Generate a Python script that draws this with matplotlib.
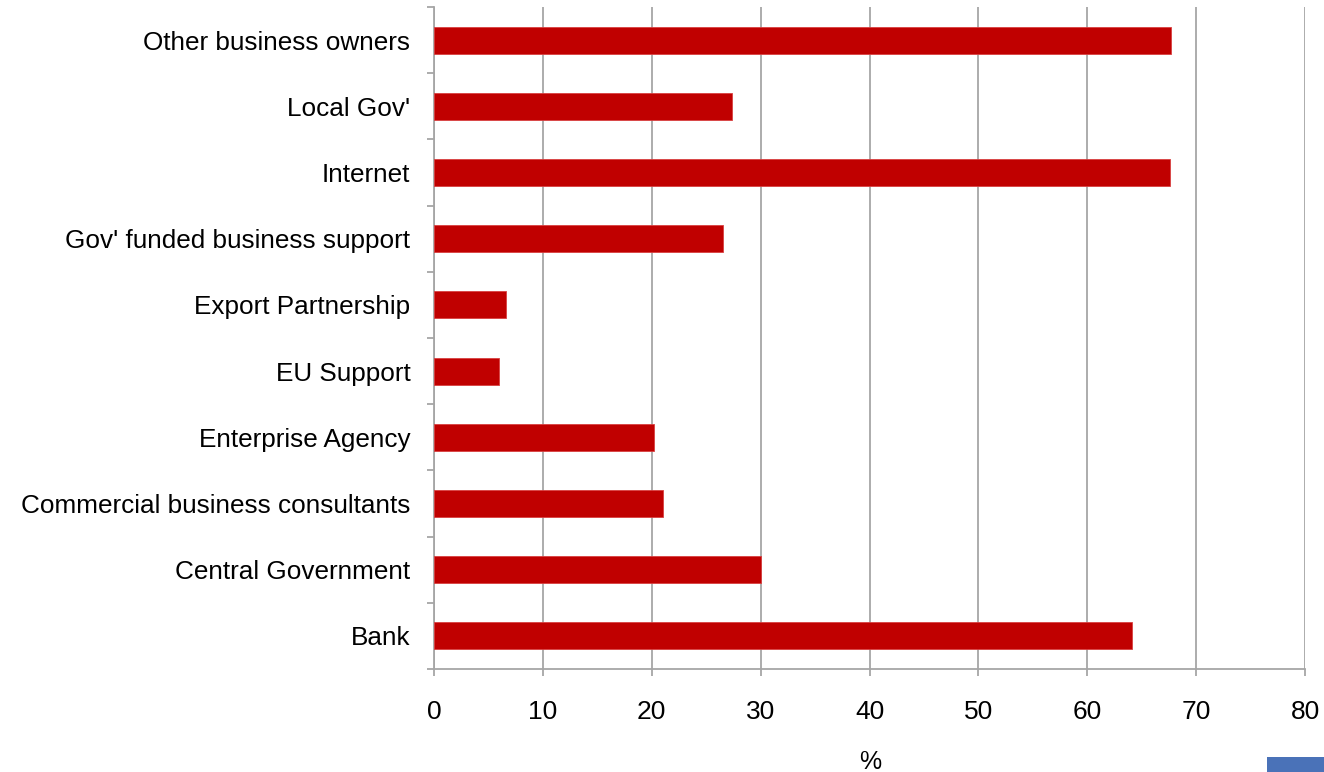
import matplotlib
matplotlib.use("Agg")
import matplotlib.pyplot as plt
from matplotlib.patches import Rectangle
import numpy as np

plt.rcParams['font.family'] = ['Liberation Sans', 'DejaVu Sans']

categories = ["Bank", "Central Government", "Commercial business consultants",
              "Enterprise Agency", "EU Support", "Export Partnership",
              "Gov' funded business support", "Internet", "Local Gov'",
              "Other business owners"]
values = [64.1, 30.0, 21.0, 20.2, 5.95, 6.65, 26.5, 67.6, 27.4, 67.7]
x_ticks = [0, 10, 20, 30, 40, 50, 60, 70, 80]
x_label = "%"

fig = plt.figure(figsize=(13.24, 7.72), dpi=100)
ax = fig.add_axes([434/1324, 103/772, 871/1324, 662/772])

y = np.arange(len(categories))
ax.barh(y, values, height=0.41, color="#C00000", edgecolor="#D84040",
        linewidth=0.6, zorder=3)

ax.set_xlim(0, 80)
ax.set_ylim(-0.5, len(categories) - 0.5)

grid_c = "#A6A6A6"
ax.set_xticks(x_ticks)
ax.set_xticklabels([str(t) for t in x_ticks], fontsize=19)
ax.tick_params(axis='x', length=5, width=1.3, color=grid_c, pad=17.5)
ax.xaxis.grid(True, color=grid_c, linewidth=1.3, zorder=0)

ax.set_yticks(np.arange(-0.5, len(categories), 1.0))
ax.set_yticklabels([])
ax.tick_params(axis='y', which='major', length=5, width=1.3, color=grid_c)
ax.set_yticks(y, minor=True)
ax.set_yticklabels(categories, minor=True, fontsize=18.8)
ax.tick_params(axis='y', which='minor', length=0, pad=17)

for s in ['top', 'right']:
    ax.spines[s].set_visible(False)
for s in ['left', 'bottom']:
    ax.spines[s].set_color(grid_c)
    ax.spines[s].set_linewidth(1.3)

fig.text(870.5/1324, 1 - 762/772, x_label, ha='center', va='center', fontsize=18)

fig.patches.append(Rectangle((1267/1324, 0), 57/1324, 15/772,
                             transform=fig.transFigure, facecolor="#4A72B8",
                             edgecolor='none'))

fig.savefig("out.png", dpi=100)
